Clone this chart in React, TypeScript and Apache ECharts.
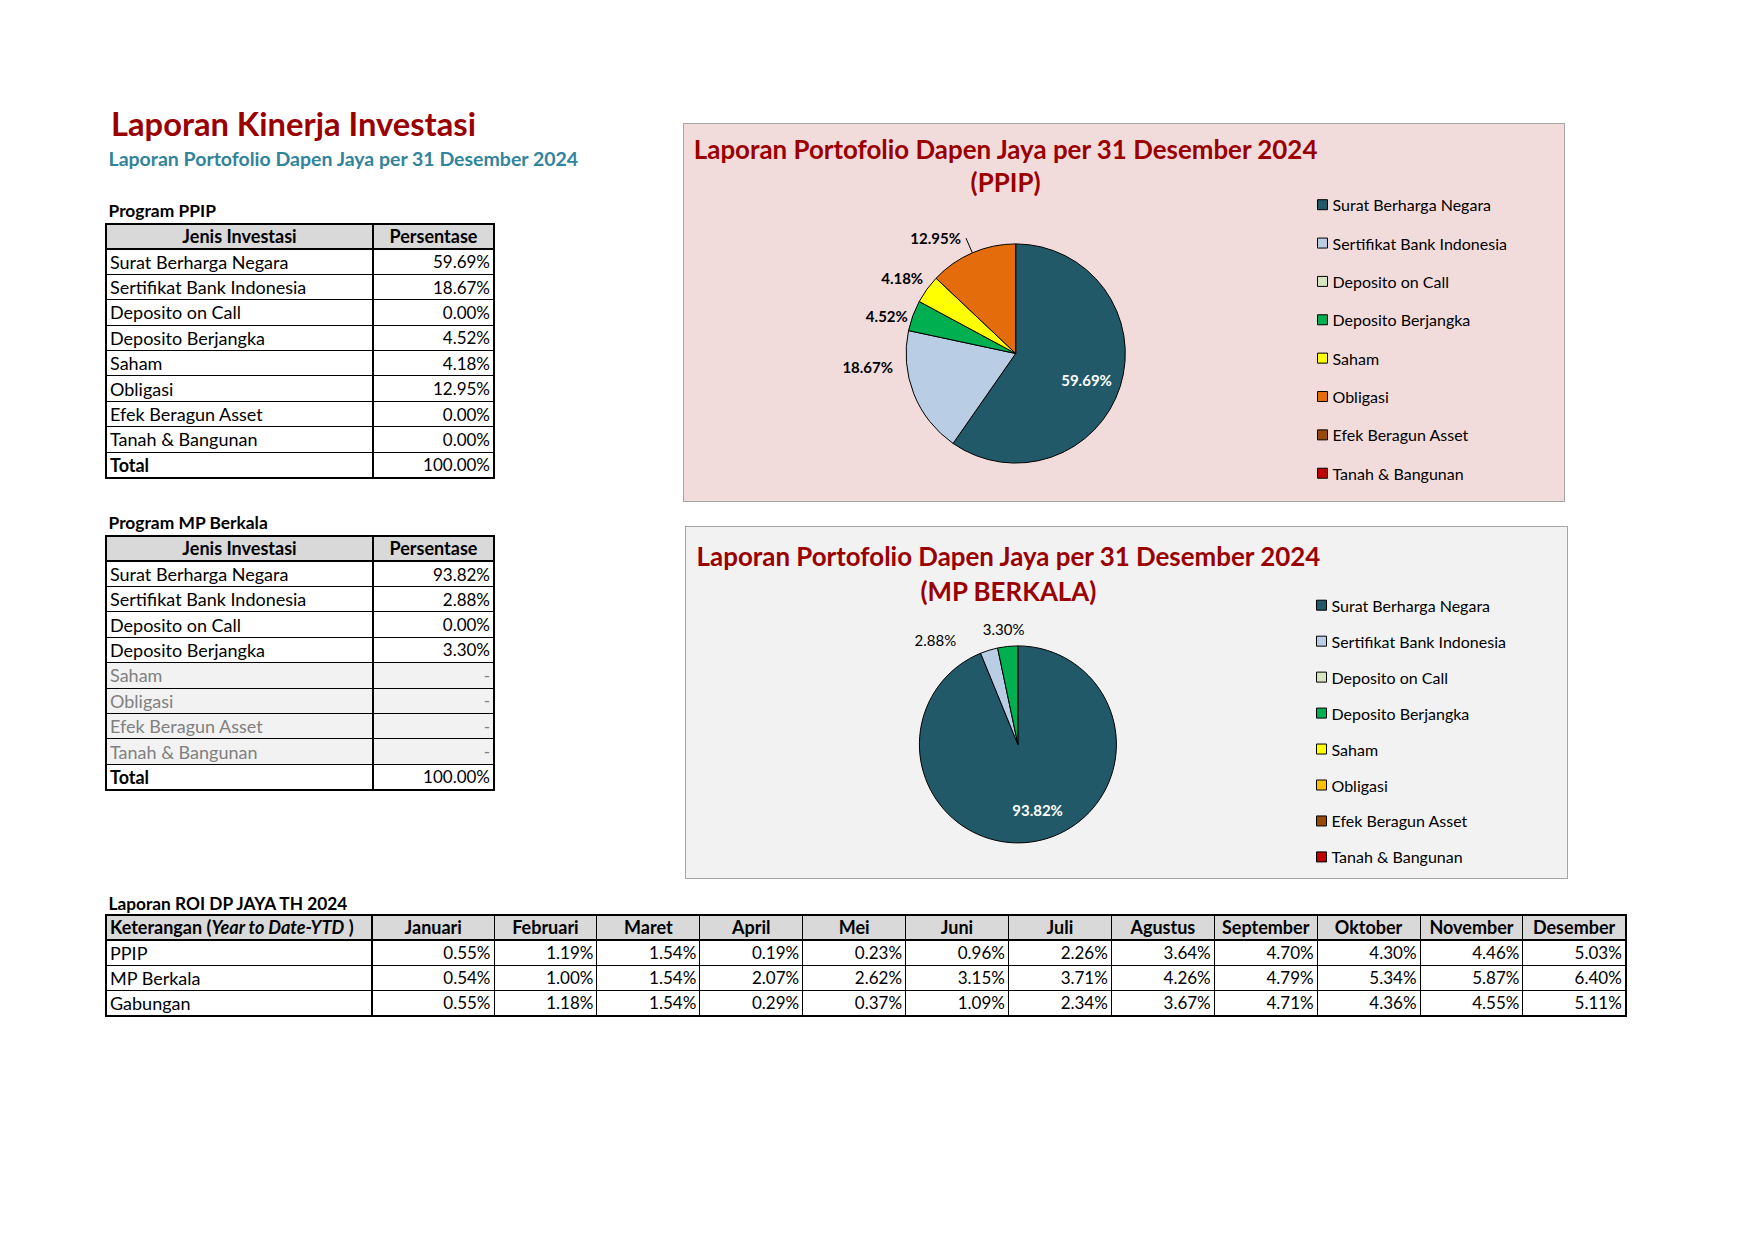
import React, { useEffect, useRef } from 'react';
import * as echarts from 'echarts';

const FONT = 'Lato, "Open Sans", sans-serif';

// ---------- data ----------
const categories = [
  'Surat Berharga Negara',
  'Sertifikat Bank Indonesia',
  'Deposito on Call',
  'Deposito Berjangka',
  'Saham',
  'Obligasi',
  'Efek Beragun Asset',
  'Tanah & Bangunan',
];
const ppipValues: (number | null)[] = [59.69, 18.67, 0, 4.52, 4.18, 12.95, 0, 0];
const ppipTotal = 100.0;
const mpValues: (number | null)[] = [93.82, 2.88, 0, 3.3, null, null, null, null];
const mpTotal = 100.0;

const months = ['Januari', 'Februari', 'Maret', 'April', 'Mei', 'Juni', 'Juli', 'Agustus', 'September', 'Oktober', 'November', 'Desember'];
const roiLabels = ['PPIP', 'MP Berkala', 'Gabungan'];
const roiPpip = [0.55, 1.19, 1.54, 0.19, 0.23, 0.96, 2.26, 3.64, 4.7, 4.3, 4.46, 5.03];
const roiMp = [0.54, 1.0, 1.54, 2.07, 2.62, 3.15, 3.71, 4.26, 4.79, 5.34, 5.87, 6.4];
const roiGabungan = [0.55, 1.18, 1.54, 0.29, 0.37, 1.09, 2.34, 3.67, 4.71, 4.36, 4.55, 5.11];

// ---------- styles ----------
const ppipColors = ['#215968', '#B9CDE5', '#D7E4BD', '#00B050', '#FFFF00', '#E46C0A', '#984807', '#C00000'];
const mpColors = ['#215968', '#B9CDE5', '#D7E4BD', '#00B050', '#FFFF00', '#FFC000', '#984807', '#C00000'];
const DARK_RED = '#9A0000';
const TEAL = '#31849B';

const fmt = (v: number) => v.toFixed(2) + '%';

function PageText(props: { x: number; cy: number; size: number; bold?: boolean; color?: string; children: any }) {
  const { x, cy, size, bold, color, children } = props;
  return (
    <div
      style={{
        position: 'absolute',
        left: x,
        top: cy - 0.627 * size,
        fontSize: size,
        lineHeight: `${1.2 * size}px`,
        fontWeight: bold ? 700 : 400,
        color: color || '#000',
        whiteSpace: 'nowrap',
        fontFamily: FONT,
      }}
    >
      {children}
    </div>
  );
}

const cellBase: React.CSSProperties = {
  border: '1px solid #000',
  padding: '0 3px',
  lineHeight: 1,
  whiteSpace: 'nowrap',
  overflow: 'hidden',
};
const LABEL_SIZE = 18;
const VALUE_SIZE = 17;

function AllocTable(props: { left: number; top: number; values: (number | null)[]; total: number }) {
  const { left, top, values, total } = props;
  const rh = 25.4;
  const hdr: React.CSSProperties = { ...cellBase, background: '#D9D9D9', textAlign: 'center', fontWeight: 700, borderBottom: '2px solid #000', fontSize: LABEL_SIZE };
  return (
    <table
      style={{
        position: 'absolute',
        left,
        top,
        width: 388,
        borderCollapse: 'collapse',
        tableLayout: 'fixed',
        fontFamily: FONT,
        fontSize: VALUE_SIZE,
        border: '2px solid #000',
      }}
    >
      <colgroup>
        <col style={{ width: 267 }} />
        <col style={{ width: 121 }} />
      </colgroup>
      <tbody>
        <tr style={{ height: rh }}>
          <th style={{ ...hdr, borderRight: '2px solid #000' }}>Jenis Investasi</th>
          <th style={hdr}>Persentase</th>
        </tr>
        {categories.map((c, i) => {
          const v = values[i];
          const na = v === null;
          const bg = na ? '#F2F2F2' : '#fff';
          const col = na ? '#808080' : '#000';
          return (
            <tr key={c} style={{ height: rh }}>
              <td style={{ ...cellBase, background: bg, color: col, borderRight: '2px solid #000', fontSize: LABEL_SIZE }}>{c}</td>
              <td style={{ ...cellBase, background: bg, color: col, textAlign: 'right' }}>{na ? '-' : fmt(v as number)}</td>
            </tr>
          );
        })}
        <tr style={{ height: rh }}>
          <td style={{ ...cellBase, fontWeight: 700, borderRight: '2px solid #000', fontSize: LABEL_SIZE }}>Total</td>
          <td style={{ ...cellBase, textAlign: 'right' }}>{fmt(total)}</td>
        </tr>
      </tbody>
    </table>
  );
}

function RoiTable(props: { left: number; top: number }) {
  const { left, top } = props;
  const rh = 25.2;
  const hdr: React.CSSProperties = { ...cellBase, background: '#D9D9D9', textAlign: 'center', fontWeight: 700, borderBottom: '2px solid #000', fontSize: LABEL_SIZE };
  const rows = [roiPpip, roiMp, roiGabungan];
  const monthWidths = months.map((_, i) => (i === 0 ? 122 : 102.9));
  return (
    <table
      style={{
        position: 'absolute',
        left,
        top,
        width: 1520,
        borderCollapse: 'collapse',
        tableLayout: 'fixed',
        fontFamily: FONT,
        fontSize: VALUE_SIZE,
        border: '2px solid #000',
      }}
    >
      <colgroup>
        <col style={{ width: 266 }} />
        {months.map((m, i) => (
          <col key={m} style={{ width: monthWidths[i] }} />
        ))}
      </colgroup>
      <tbody>
        <tr style={{ height: rh }}>
          <th style={{ ...hdr, textAlign: 'left', borderRight: '2px solid #000' }}>
            Keterangan (<i>Year to Date-YTD</i> )
          </th>
          {months.map((m) => (
            <th key={m} style={hdr}>
              {m}
            </th>
          ))}
        </tr>
        {rows.map((r, ri) => (
          <tr key={roiLabels[ri]} style={{ height: rh }}>
            <td style={{ ...cellBase, borderTop: '1px solid #7F7F7F', borderRight: '2px solid #000', fontSize: LABEL_SIZE }}>{roiLabels[ri]}</td>
            {r.map((v, i) => (
              <td key={i} style={{ ...cellBase, borderTop: '1px solid #7F7F7F', textAlign: 'right' }}>
                {fmt(v)}
              </td>
            ))}
          </tr>
        ))}
      </tbody>
    </table>
  );
}

type PieCfg = {
  values: (number | null)[];
  colors: string[];
  center: [number, number];
  radius: number;
  boldOutside: boolean;
  lineShow: boolean[];
  lineLen: number[];
  nudges: ([number, number] | null)[];
  legendLeft: number;
  legendTop: number;
  legendGap: number;
  titleX: number;
  titleY1: number;
  titleY2: number;
  title2: string;
};

function buildPieOption(cfg: PieCfg) {
  const data = categories.map((name, i) => {
    const v = cfg.values[i] ?? 0;
    const inside = i === 0;
    return {
      name,
      value: v,
      itemStyle: { color: cfg.colors[i], borderColor: '#000', borderWidth: v > 0 ? 1 : 0 },
      label: {
        show: v > 0,
        position: inside ? 'inside' : 'outside',
        color: inside ? '#fff' : '#000',
        fontWeight: inside || cfg.boldOutside ? 'bold' : 'normal',
      },
      labelLine: { show: cfg.lineShow[i], length: cfg.lineLen[i], length2: 0, lineStyle: { color: '#000', width: 1 } },
    };
  });
  const titleStyle = (text: string, y: number) => ({
    type: 'text',
    x: cfg.titleX,
    y,
    silent: true,
    style: {
      text,
      fill: DARK_RED,
      fontFamily: FONT,
      fontSize: 25.9,
      fontWeight: 'bold',
      textAlign: 'center',
      textVerticalAlign: 'middle',
      align: 'center',
      verticalAlign: 'middle',
    },
  });
  return {
    animation: false,
    textStyle: { fontFamily: FONT },
    graphic: [titleStyle('Laporan Portofolio Dapen Jaya per 31 Desember 2024', cfg.titleY1), titleStyle(cfg.title2, cfg.titleY2)],
    legend: {
      orient: 'vertical',
      left: cfg.legendLeft,
      top: cfg.legendTop,
      padding: 0,
      itemGap: cfg.legendGap,
      itemWidth: 10,
      itemHeight: 10,
      icon: 'rect',
      selectedMode: false,
      data: categories,
      itemStyle: { borderColor: '#000', borderWidth: 1 },
      textStyle: { fontFamily: FONT, fontSize: 16, color: '#000', lineHeight: 16 },
    },
    series: [
      {
        type: 'pie',
        silent: true,
        startAngle: 90,
        clockwise: true,
        center: cfg.center,
        radius: cfg.radius,
        avoidLabelOverlap: false,
        label: {
          fontFamily: FONT,
          fontSize: 15,
          formatter: (p: any) => fmt(p.value),
        },
        labelLayout: (p: any) => {
          const n = cfg.nudges[p.dataIndex];
          return n ? { dx: n[0], dy: n[1] } : {};
        },
        data,
      },
    ],
  };
}

function PieChart(props: { style: React.CSSProperties; cfg: PieCfg }) {
  const ref = useRef<HTMLDivElement>(null);
  useEffect(() => {
    if (!ref.current) return;
    const chart = echarts.init(ref.current, null, { renderer: 'svg' });
    chart.setOption(buildPieOption(props.cfg) as any);
    return () => chart.dispose();
  }, []);
  return <div ref={ref} style={props.style} />;
}

const ppipCfg: PieCfg = {
  values: ppipValues,
  colors: ppipColors,
  center: [331.7, 229.5],
  radius: 109.6,
  boldOutside: true,
  lineShow: [false, false, false, false, false, true, false, false],
  lineLen: [0, 0, 0, 0, 0, 16, 0, 0],
  nudges: [[15.7, 9.2], [-15.7, -26.9], null, [0, 0], [1.3, -11.5], null, null, null],
  legendLeft: 633,
  legendTop: 80.7 - 8,
  legendGap: 38.36 - 16,
  titleX: 321.6,
  titleY1: 24.8,
  titleY2: 58.3,
  title2: '(PPIP)',
};

const mpCfg: PieCfg = {
  values: mpValues,
  colors: mpColors,
  center: [331.9, 217.4],
  radius: 98.5,
  boldOutside: false,
  lineShow: [false, false, false, false, false, false, false, false],
  lineLen: [0, 0, 0, 0, 0, 0, 0, 0],
  nudges: [[9.6, 14], [-27.7, -9.8], null, [21.8, -17.2], null, null, null, null],
  legendLeft: 630,
  legendTop: 78.2 - 8,
  legendGap: 35.96 - 16,
  titleX: 322.4,
  titleY1: 29,
  titleY2: 63.6,
  title2: '(MP BERKALA)',
};

export default function App() {
  return (
    <div style={{ position: 'absolute', left: 0, top: 0, width: 1754, height: 1240, background: '#fff', fontFamily: FONT, overflow: 'hidden' }}>
      <PageText x={111} cy={124.2} size={32.7} bold color={DARK_RED}>
        Laporan Kinerja Investasi
      </PageText>
      <PageText x={108.5} cy={159.5} size={19.5} bold color={TEAL}>
        Laporan Portofolio Dapen Jaya per 31 Desember 2024
      </PageText>
      <PageText x={108.5} cy={212.3} size={17.4} bold>
        Program PPIP
      </PageText>
      <AllocTable left={105} top={222.6} values={ppipValues} total={ppipTotal} />
      <PageText x={108.5} cy={524.4} size={17.4} bold>
        Program MP Berkala
      </PageText>
      <AllocTable left={105} top={534.7} values={mpValues} total={mpTotal} />
      <PageText x={108.5} cy={904.6} size={17.3} bold>
        Laporan ROI DP JAYA TH 2024
      </PageText>
      <RoiTable left={105} top={913.9} />

      <PieChart
        cfg={ppipCfg}
        style={{ position: 'absolute', left: 683, top: 123, width: 882, height: 379, boxSizing: 'border-box', border: '1px solid #A6A6A6', background: '#F2DCDB' }}
      />
      <PieChart
        cfg={mpCfg}
        style={{ position: 'absolute', left: 685, top: 526, width: 883, height: 353, boxSizing: 'border-box', border: '1px solid #A6A6A6', background: '#F2F2F2' }}
      />
    </div>
  );
}
